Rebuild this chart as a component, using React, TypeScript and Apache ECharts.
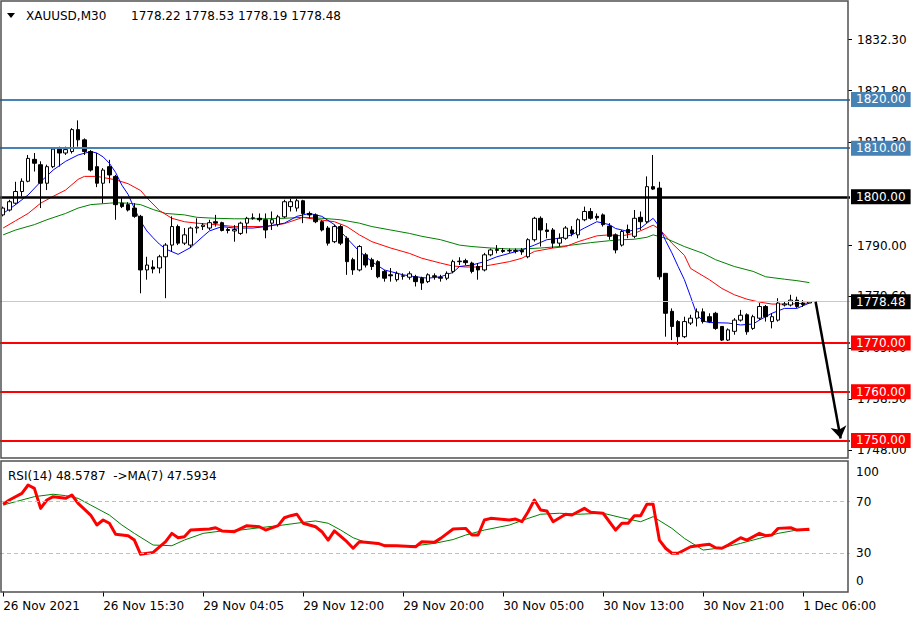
import React, { useEffect, useRef } from "react";
import * as echarts from "echarts";

const FONT = "DejaVu Sans";

// Time-axis labels, one every 16 bars (M30)
const timeLabels = [
  "26 Nov 2021", "26 Nov 15:30", "29 Nov 04:05", "29 Nov 12:00", "29 Nov 20:00",
  "30 Nov 05:00", "30 Nov 13:00", "30 Nov 21:00", "1 Dec 06:00",
];
const LABEL_EVERY = 16;
const SLOT_COUNT = 136; // bars + right shift space

// XAUUSD M30 candles
const opens = [
  1796.3, 1797.3, 1798.7, 1801.1, 1803.2, 1807.7, 1806.6, 1802.8, 1806.2, 1809.8,
  1809.0, 1809.3, 1813.8, 1811.7, 1809.3, 1806.2, 1802.8, 1806.2, 1804.2, 1798.7,
  1798.4, 1797.7, 1796.0, 1785.0, 1785.6, 1785.4, 1787.7, 1790.1, 1793.9, 1790.5,
  1790.1, 1793.6, 1793.9, 1793.6, 1794.9, 1794.7, 1793.3, 1793.0, 1792.5, 1794.6,
  1795.6, 1795.6, 1795.3, 1794.6, 1794.3, 1795.9, 1798.0, 1797.7, 1799.2, 1796.6,
  1796.3, 1794.9, 1793.6, 1790.8, 1793.9, 1791.5, 1787.1, 1785.0, 1788.1, 1787.1,
  1786.7, 1784.7, 1784.0, 1783.0, 1783.7, 1783.5, 1783.6, 1783.3, 1782.6, 1783.8,
  1783.5, 1783.3, 1784.7, 1786.7, 1786.9, 1786.4, 1785.7, 1785.0, 1788.1, 1789.0,
  1789.0, 1788.9, 1788.8, 1789.0, 1787.7, 1791.2, 1795.6, 1793.2, 1793.2, 1790.5,
  1791.5, 1793.2, 1792.2, 1795.3, 1797.0, 1796.0, 1796.3, 1794.0, 1792.2, 1790.1,
  1793.3, 1791.9, 1795.8, 1794.9, 1802.1, 1801.8, 1784.3, 1776.5, 1774.4, 1771.3,
  1774.1, 1775.1, 1776.4, 1775.4, 1776.1, 1773.4, 1770.6, 1772.4, 1774.7, 1775.8,
  1773.0, 1775.1, 1777.5, 1774.4, 1774.7, 1777.8, 1777.8, 1778.8, 1778.2, 1778.22,
];
const closes = [
  1797.7, 1799.0, 1801.1, 1803.2, 1807.9, 1806.9, 1802.8, 1806.2, 1809.8, 1809.0,
  1809.7, 1813.8, 1811.7, 1809.3, 1805.5, 1802.8, 1805.5, 1804.5, 1798.4, 1798.0,
  1797.3, 1796.0, 1785.0, 1786.0, 1785.2, 1787.7, 1790.1, 1793.9, 1790.5, 1792.2,
  1793.6, 1793.8, 1794.2, 1794.7, 1794.6, 1793.1, 1793.1, 1793.3, 1794.6, 1795.6,
  1795.7, 1795.3, 1793.2, 1795.3, 1795.9, 1799.0, 1799.0, 1799.2, 1796.6, 1796.3,
  1794.9, 1793.2, 1790.5, 1793.9, 1790.5, 1786.7, 1785.0, 1789.8, 1786.0, 1785.7,
  1783.6, 1783.3, 1783.8, 1784.3, 1783.8, 1784.2, 1782.6, 1782.3, 1784.0, 1783.6,
  1783.3, 1784.3, 1786.7, 1786.8, 1786.5, 1784.7, 1785.0, 1788.1, 1789.1, 1789.2,
  1788.8, 1789.0, 1789.0, 1788.7, 1791.2, 1795.6, 1793.2, 1792.9, 1790.5, 1791.5,
  1793.6, 1792.5, 1795.3, 1797.0, 1795.6, 1795.7, 1794.3, 1791.9, 1789.1, 1792.9,
  1792.6, 1795.6, 1794.9, 1802.1, 1801.6, 1783.6, 1776.1, 1773.4, 1771.3, 1774.4,
  1775.1, 1776.4, 1774.4, 1774.4, 1773.0, 1770.6, 1772.7, 1774.7, 1775.7, 1772.3,
  1775.4, 1777.5, 1775.4, 1775.4, 1778.2, 1778.0, 1778.8, 1777.5, 1777.9, 1778.48,
];
const lows = [
  1796.0, 1797.0, 1798.4, 1800.1, 1803.0, 1805.2, 1797.7, 1801.4, 1805.9, 1806.2,
  1808.6, 1808.9, 1810.3, 1808.6, 1805.2, 1802.0, 1798.7, 1802.8, 1795.3, 1797.7,
  1797.0, 1795.7, 1780.2, 1783.0, 1784.3, 1784.3, 1779.2, 1788.8, 1790.1, 1790.1,
  1789.5, 1792.5, 1793.2, 1793.2, 1793.9, 1792.9, 1792.5, 1790.8, 1792.2, 1792.5,
  1795.3, 1794.9, 1791.5, 1793.2, 1793.9, 1795.6, 1797.0, 1797.0, 1794.6, 1795.6,
  1794.6, 1792.9, 1790.0, 1790.5, 1790.1, 1784.0, 1784.0, 1784.7, 1785.5, 1785.0,
  1783.3, 1782.6, 1782.6, 1782.6, 1783.0, 1783.0, 1781.6, 1780.9, 1782.3, 1783.0,
  1782.6, 1782.9, 1784.3, 1786.0, 1786.0, 1784.3, 1783.0, 1784.7, 1787.8, 1788.4,
  1788.5, 1788.5, 1788.4, 1788.1, 1787.4, 1790.8, 1789.8, 1791.5, 1789.5, 1789.8,
  1791.2, 1791.9, 1791.5, 1795.0, 1795.3, 1795.2, 1793.9, 1791.2, 1788.4, 1789.8,
  1791.5, 1791.5, 1793.2, 1794.6, 1801.4, 1783.0, 1771.3, 1770.6, 1769.6, 1771.0,
  1773.7, 1773.4, 1774.0, 1774.1, 1772.7, 1770.4, 1770.4, 1771.7, 1774.4, 1771.7,
  1772.7, 1774.7, 1774.4, 1773.0, 1774.4, 1777.5, 1777.5, 1777.2, 1777.4, 1778.19,
];
const highs = [
  1798.0, 1799.4, 1803.1, 1803.8, 1808.6, 1809.0, 1807.3, 1806.6, 1810.0, 1810.3,
  1810.3, 1814.1, 1815.7, 1812.0, 1809.6, 1809.0, 1805.9, 1807.6, 1804.5, 1800.0,
  1798.9, 1798.7, 1796.3, 1787.7, 1787.0, 1788.1, 1790.5, 1796.0, 1794.3, 1793.6,
  1793.9, 1795.6, 1794.6, 1795.3, 1796.3, 1794.9, 1793.6, 1794.2, 1794.9, 1795.9,
  1796.6, 1796.6, 1796.6, 1797.0, 1796.3, 1799.4, 1799.6, 1799.6, 1799.4, 1797.0,
  1796.6, 1795.2, 1794.0, 1794.3, 1794.3, 1791.9, 1787.5, 1790.1, 1788.5, 1787.5,
  1787.0, 1785.0, 1785.4, 1784.7, 1784.3, 1784.7, 1784.0, 1783.6, 1784.3, 1784.3,
  1784.0, 1784.7, 1787.1, 1787.6, 1787.3, 1786.7, 1786.4, 1788.5, 1789.4, 1790.1,
  1789.5, 1789.4, 1789.4, 1789.5, 1791.5, 1795.9, 1796.0, 1794.6, 1793.6, 1792.5,
  1794.0, 1794.0, 1795.6, 1798.0, 1797.7, 1796.6, 1796.6, 1794.6, 1792.5, 1793.2,
  1794.3, 1797.3, 1797.0, 1804.2, 1808.6, 1803.1, 1784.3, 1777.1, 1774.7, 1775.4,
  1775.8, 1777.1, 1777.1, 1776.1, 1776.4, 1773.4, 1773.0, 1775.1, 1776.8, 1776.1,
  1775.8, 1778.2, 1777.8, 1776.1, 1779.2, 1778.5, 1779.9, 1779.5, 1778.8, 1778.53,
];

// Moving averages: [bar index, value]
const maFast = [
  [0, 1796.6], [2, 1798.4], [4, 1800.4], [6, 1803.1], [8, 1805.5], [10, 1807.3], [12, 1808.6],
  [14, 1809.3], [15, 1809.0], [16, 1808.2], [17, 1806.9], [18, 1805.0], [19, 1802.4], [20, 1800.5],
  [21, 1797.6], [22, 1795.0], [23, 1793.0], [24, 1791.6], [25, 1790.3], [26, 1789.3], [28, 1788.2],
  [30, 1789.6], [32, 1791.9], [33, 1793.0], [35, 1793.9], [37, 1793.6], [40, 1793.6], [42, 1793.9],
  [45, 1794.6], [47, 1796.0], [49, 1796.6], [51, 1796.0], [53, 1794.3], [55, 1791.5], [57, 1788.8],
  [59, 1786.7], [61, 1785.0], [64, 1784.0], [66, 1783.6], [68, 1783.3], [70, 1783.6], [72, 1784.5],
  [73, 1785.7], [75, 1786.0], [77, 1786.7], [79, 1787.7], [81, 1788.4], [83, 1789.1], [85, 1790.1],
  [87, 1791.2], [89, 1791.5], [91, 1792.2], [93, 1793.6], [95, 1794.9], [97, 1794.3], [98, 1793.5],
  [100, 1792.9], [102, 1793.6], [103, 1794.6], [104, 1795.6], [105, 1793.9], [106, 1791.0],
  [107, 1788.5], [108, 1785.7], [109, 1783.0], [110, 1779.5], [111, 1775.8], [112, 1774.5],
  [113, 1774.2], [116, 1774.1], [118, 1773.7], [120, 1773.9], [121, 1774.7], [123, 1776.1],
  [125, 1777.1], [127, 1777.1], [129, 1778.2],
];
const maMid = [
  [0, 1793.6], [2, 1795.1], [4, 1796.6], [6, 1798.7], [8, 1800.1], [10, 1801.4], [12, 1803.6],
  [13, 1804.2], [15, 1804.2], [18, 1803.5], [20, 1802.7], [22, 1801.3], [23, 1799.8], [25, 1797.2],
  [27, 1795.6], [29, 1794.9], [31, 1794.6], [34, 1794.3], [37, 1793.9], [42, 1793.9], [45, 1794.5],
  [48, 1795.8], [50, 1795.4], [53, 1794.9], [55, 1793.9], [57, 1792.2], [59, 1790.8], [62, 1789.5],
  [65, 1788.4], [67, 1787.4], [70, 1786.4], [72, 1785.8], [74, 1785.6], [76, 1785.6], [78, 1786.0],
  [81, 1786.7], [83, 1787.4], [85, 1788.8], [88, 1789.5], [90, 1789.8], [92, 1790.8], [93, 1791.2],
  [95, 1792.0], [97, 1792.2], [99, 1792.0], [101, 1792.5], [103, 1793.6], [104, 1794.2],
  [105, 1793.4], [107, 1790.5], [109, 1788.0], [110, 1785.3], [113, 1783.0], [115, 1781.2],
  [117, 1779.9], [119, 1779.0], [121, 1778.4], [123, 1778.0], [126, 1778.0], [129, 1778.2],
];
const maSlow = [
  [0, 1792.2], [2, 1793.2], [5, 1794.3], [7, 1795.3], [10, 1796.6], [12, 1797.7], [14, 1798.4],
  [17, 1798.7], [18, 1798.8], [20, 1798.7], [22, 1798.4], [24, 1797.4], [26, 1796.6], [29, 1796.3],
  [31, 1795.8], [34, 1795.6], [37, 1795.5], [42, 1795.5], [45, 1795.6], [48, 1795.8], [51, 1795.6],
  [54, 1795.3], [57, 1794.6], [59, 1793.9], [62, 1793.2], [65, 1792.5], [67, 1791.9], [70, 1791.2],
  [73, 1790.1], [75, 1789.8], [78, 1789.5], [81, 1789.3], [83, 1789.3], [86, 1789.5], [89, 1789.8],
  [91, 1790.1], [94, 1790.6], [97, 1791.0], [99, 1791.2], [101, 1791.3], [103, 1791.7],
  [104, 1792.2], [106, 1791.5], [109, 1789.8], [112, 1788.4], [114, 1787.1], [117, 1785.7],
  [120, 1784.7], [122, 1783.6], [125, 1783.1], [127, 1782.8], [129, 1782.4],
];

// RSI(14) and its MA(7): [bar index, value]
const rsi14 = [
  [0, 68.0], [1, 71.3], [3, 76.5], [4, 83.0], [5, 80.4], [6, 64.8], [7, 71.3], [8, 73.9], [10, 72.6],
  [11, 75.2], [12, 68.7], [14, 59.6], [15, 51.8], [16, 55.7], [17, 53.2], [18, 44.6], [20, 43.5],
  [21, 40.1], [22, 29.0], [24, 30.5], [26, 38.8], [27, 45.3], [28, 41.9], [29, 42.7], [30, 47.9],
  [33, 48.7], [34, 49.7], [35, 47.2], [37, 46.6], [39, 51.3], [41, 50.5], [42, 47.9], [44, 51.3],
  [45, 57.5], [46, 59.1], [47, 60.2], [48, 53.2], [50, 50.5], [51, 46.6], [52, 40.1], [53, 47.2],
  [55, 38.8], [56, 33.7], [57, 38.8], [58, 38.3], [60, 37.5], [61, 35.7], [63, 35.7], [66, 34.9],
  [67, 38.8], [69, 38.3], [70, 41.4], [72, 48.7], [74, 49.2], [75, 44.0], [76, 44.0], [77, 55.7],
  [78, 57.0], [81, 55.7], [82, 56.5], [83, 54.4], [84, 62.2], [85, 71.3], [86, 63.5], [87, 62.7],
  [88, 54.4], [90, 60.2], [91, 59.6], [93, 64.8], [94, 61.7], [96, 61.0], [98, 47.9], [99, 53.2],
  [100, 53.2], [101, 59.1], [102, 59.1], [103, 68.0], [104, 68.0], [105, 40.1], [106, 33.7],
  [107, 29.8], [108, 29.8], [110, 34.9], [112, 36.2], [113, 36.8], [114, 34.1], [115, 33.7],
  [116, 36.2], [118, 41.9], [119, 40.1], [121, 45.3], [122, 43.5], [123, 44.0], [124, 49.2],
  [126, 49.7], [127, 47.9], [129, 48.58],
];
const rsiMa7 = [
  [0, 67.4], [5, 73.9], [8, 75.8], [10, 74.7], [12, 72.6], [14, 67.4], [17, 59.6], [19, 51.8],
  [21, 45.3], [24, 36.2], [27, 35.7], [29, 40.1], [32, 45.3], [35, 47.2], [38, 47.9], [41, 49.7],
  [44, 51.3], [48, 53.9], [50, 55.0], [52, 53.2], [54, 47.9], [56, 41.9], [58, 38.3], [61, 36.2],
  [64, 35.7], [66, 35.7], [69, 37.5], [72, 40.5], [74, 44.0], [77, 47.9], [81, 51.8], [84, 57.0],
  [86, 60.2], [89, 61.0], [92, 60.2], [96, 61.0], [99, 57.5], [102, 54.4], [104, 58.3], [107, 49.2],
  [109, 41.4], [112, 32.3], [115, 34.1], [118, 37.5], [121, 41.4], [124, 45.3], [127, 47.9],
  [129, 47.59],
];

// Levels and annotations
const priceTickLabels = [1832.3, 1821.8, 1811.3, 1790.0, 1779.6, 1769.0, 1758.5, 1748.0];
const rsiTickLabels = [0, 30, 70, 100];
const rsiLevels = [70, 30];
const resistanceLevels = [1820, 1810];
const pivotLevels = [1800];
const supportLevels = [1770, 1760, 1750];
const lastPrice = 1778.48;
const arrowFrom = [130, 1778.48];
const arrowTo = [134, 1750.4];
const titleSymbol = "XAUUSD,M30";
const titleQuote = "1778.22 1778.53 1778.19 1778.48";
const rsiTitle = "RSI(14) 48.5787  ->MA(7) 47.5934";

const categories = Array.from({ length: SLOT_COUNT }, (_, i) =>
  i % LABEL_EVERY === 0 && timeLabels[i / LABEL_EVERY] ? timeLabels[i / LABEL_EVERY] : `#${i}`
);
const candles = opens.map((o, i) => [o, closes[i], lows[i], highs[i]]);

const levelLine = (v: number, color: string, width: number, box: string) => ({
  yAxis: v,
  lineStyle: { color, width, type: "solid" },
  label: {
    show: true,
    position: "end",
    distance: 1,
    formatter: v.toFixed(2),
    color: "#ffffff",
    backgroundColor: box,
    padding: [2, 5, 1, 5],
    fontSize: 12,
    fontFamily: FONT,
  },
});

export default function App() {
  const ref = useRef<HTMLDivElement>(null);
  useEffect(() => {
    if (!ref.current) return;
    const chart = echarts.init(ref.current, null, { renderer: "svg" });
    const option: any = {
      animation: false,
      backgroundColor: "#ffffff",
      textStyle: { fontFamily: FONT },
      grid: [
        { left: 0, top: 2, width: 850, height: 455 },
        { left: 0, top: 463.2, width: 850, height: 128.3 },
      ],
      xAxis: [
        {
          type: "category", gridIndex: 0, data: categories, boundaryGap: true,
          axisLine: { show: false }, axisTick: { show: false }, axisLabel: { show: false },
          splitLine: { show: false },
        },
        {
          type: "category", gridIndex: 1, data: categories, boundaryGap: true,
          axisLine: { show: false },
          axisTick: { show: true, interval: LABEL_EVERY - 1, alignWithLabel: true, length: 5, lineStyle: { color: "#000" } },
          axisLabel: {
            interval: LABEL_EVERY - 1, align: "left", margin: 8, fontSize: 12, color: "#000", fontFamily: FONT,
            formatter: (v: string) => (v.startsWith("#") ? "" : v),
          },
          splitLine: { show: false },
        },
      ],
      yAxis: [
        {
          type: "value", gridIndex: 0, position: "right", offset: -2, min: 1746.6, max: 1840.0,
          axisLine: { show: false },
          axisTick: { show: true, length: 4, customValues: priceTickLabels, lineStyle: { color: "#000" } },
          axisLabel: {
            customValues: priceTickLabels, margin: 9, fontSize: 12, color: "#000", fontFamily: FONT,
            formatter: (v: number) => v.toFixed(2),
          },
          splitLine: { show: false },
        },
        {
          type: "value", gridIndex: 1, position: "right", offset: -2, min: 0, max: 100,
          axisLine: { show: false },
          axisTick: { show: false },
          axisLabel: {
            customValues: rsiTickLabels, margin: 8, fontSize: 12, color: "#000", fontFamily: FONT,
            formatter: (v: number) => (v === 100 ? "{hi|100}" : v === 0 ? "{lo|0}" : String(v)),
            rich: {
              hi: { padding: [17, 0, 0, 0], fontSize: 12, color: "#000", fontFamily: FONT },
              lo: { padding: [0, 0, 21, 0], fontSize: 12, color: "#000", fontFamily: FONT },
            },
          },
          splitLine: { show: false },
        },
      ],
      series: [
        {
          type: "candlestick", xAxisIndex: 0, yAxisIndex: 0, data: candles, barWidth: 4,
          itemStyle: { color: "#ffffff", color0: "#000000", borderColor: "#000000", borderColor0: "#000000", borderWidth: 1 },
          z: 4,
          markLine: {
            silent: true, symbol: ["none", "none"], animation: false,
            data: [
              levelLine(lastPrice, "#c8c8c8", 1, "#000000"),
              ...resistanceLevels.map((v) => levelLine(v, "#4682b4", 2, "#4682b4")),
              ...pivotLevels.map((v) => levelLine(v, "#000000", 2.5, "#000000")),
              ...supportLevels.map((v) => levelLine(v, "#ff0000", 2, "#ff0000")),
            ],
          },
        },
        {
          type: "line", xAxisIndex: 0, yAxisIndex: 0, data: maSlow, showSymbol: false, z: 3,
          lineStyle: { color: "#008000", width: 1 },
          markLine: {
            silent: true, symbol: "arrow", symbolSize: 12, animation: false, z: 6,
            lineStyle: { color: "#000000", width: 2.5, type: "solid" },
            itemStyle: { color: "#000000" },
            label: { show: false },
            data: [[
              { coord: arrowFrom, symbol: "none" },
              { coord: arrowTo, symbol: "arrow", symbolSize: 12 },
            ]],
          },
        },
        {
          type: "line", xAxisIndex: 0, yAxisIndex: 0, data: maMid, showSymbol: false, z: 3,
          lineStyle: { color: "#ff0000", width: 1 },
        },
        {
          type: "line", xAxisIndex: 0, yAxisIndex: 0, data: maFast, showSymbol: false, z: 3,
          lineStyle: { color: "#0000ff", width: 1 },
        },
        {
          type: "line", xAxisIndex: 1, yAxisIndex: 1, data: rsiMa7, showSymbol: false, z: 3,
          lineStyle: { color: "#008000", width: 1 },
          markLine: {
            silent: true, symbol: ["none", "none"], animation: false,
            lineStyle: { color: "#c0c0c0", width: 1, type: [4, 3] },
            label: { show: false },
            data: rsiLevels.map((v) => ({ yAxis: v })),
          },
        },
        {
          type: "line", xAxisIndex: 1, yAxisIndex: 1, data: rsi14, showSymbol: false, z: 4,
          lineStyle: { color: "#ff0000", width: 3, join: "round" },
        },
      ],
      graphic: [
        { type: "rect", z: 10, silent: true, shape: { x: 1, y: 1, width: 847, height: 457 }, style: { fill: "none", stroke: "#505050", lineWidth: 1.5 } },
        { type: "rect", z: 10, silent: true, shape: { x: 1, y: 461, width: 847, height: 131 }, style: { fill: "none", stroke: "#505050", lineWidth: 1.5 } },
        { type: "polygon", z: 10, silent: true, shape: { points: [[7, 13], [15, 13], [11, 18]] }, style: { fill: "#000" } },
        { type: "text", z: 10, silent: true, x: 26, y: 16, style: { text: titleSymbol, fontSize: 12, fontFamily: FONT, fill: "#000", verticalAlign: "middle" } },
        { type: "text", z: 10, silent: true, x: 131, y: 16, style: { text: titleQuote, fontSize: 12, fontFamily: FONT, fill: "#000", verticalAlign: "middle" } },
        { type: "text", z: 10, silent: true, x: 8, y: 476, style: { text: rsiTitle, fontSize: 12, fontFamily: FONT, fill: "#000", verticalAlign: "middle" } },
      ],
    };
    chart.setOption(option);
    return () => chart.dispose();
  }, []);
  return (
    <div
      ref={ref}
      style={{ position: "fixed", left: 0, top: 0, width: 922, height: 624, background: "#fff" }}
    />
  );
}
